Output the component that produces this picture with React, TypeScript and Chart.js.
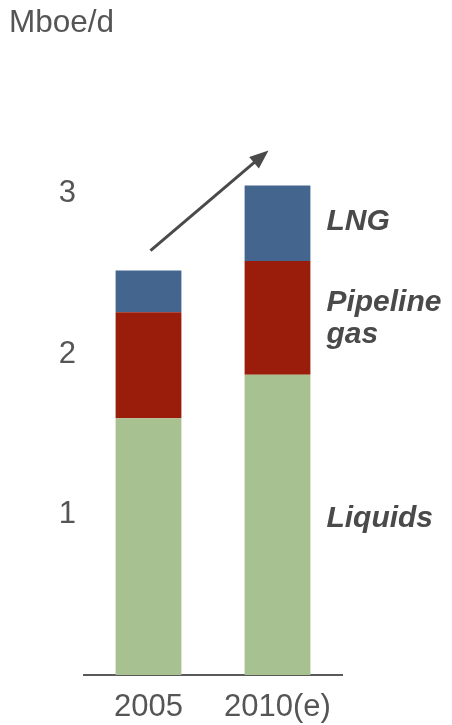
import React, { useEffect, useRef } from "react";
import { Chart, registerables } from "chart.js";

Chart.register(...registerables);

// Output by source, million barrels of oil equivalent per day
const categories = ["2005", "2010(e)"];
const liquids = [1.6, 1.87];
const pipelineGas = [0.66, 0.71];
const lng = [0.26, 0.47];

const liquidsLabel = ["Liquids"];
const pipelineLabel = ["Pipeline", "gas"];
const lngLabel = ["LNG"];
const yTickValues = [1, 2, 3];
const unitLabel = "Mboe/d";

const FONT = "'Liberation Sans', Arial, Helvetica, sans-serif";
const TEXT = "#555555";
const LABEL = "#4a4a4a";

const series = [
  { name: liquidsLabel, values: liquids, color: "#a8c191", labelShift: -6 },
  { name: pipelineLabel, values: pipelineGas, color: "#9a1c0a", labelShift: 1 },
  { name: lngLabel, values: lng, color: "#44658e", labelShift: -1 },
];

const overlay = {
  id: "overlay",
  afterDraw(chart: any) {
    const ctx = chart.ctx as CanvasRenderingContext2D;
    const xs = chart.scales.x;
    const ys = chart.scales.y;
    ctx.save();

    // unit caption
    ctx.fillStyle = TEXT;
    ctx.font = `31.5px ${FONT}`;
    ctx.textAlign = "left";
    ctx.textBaseline = "alphabetic";
    ctx.fillText(unitLabel, 9, 32);

    // series names beside the last bar, centred on each segment
    const last = categories.length - 1;
    const bar = chart.getDatasetMeta(0).data[last] as any;
    const labelX = bar.x + bar.width / 2 + 16;
    ctx.fillStyle = LABEL;
    ctx.font = `italic bold 30px ${FONT}`;
    ctx.textBaseline = "middle";
    let base = 0;
    series.forEach((s) => {
      const v = s.values[last];
      const mid = ys.getPixelForValue(base + v / 2) + s.labelShift;
      base += v;
      const lh = 32;
      s.name.forEach((line, i) => {
        ctx.fillText(line, labelX, mid + (i - (s.name.length - 1) / 2) * lh);
      });
    });

    // growth arrow between the two totals
    const total = (i: number) => series.reduce((a, s) => a + s.values[i], 0);
    const x0 = xs.getPixelForValue(0) + 2;
    const y0 = ys.getPixelForValue(total(0)) - 20;
    const x1 = xs.getPixelForValue(1) - 9;
    const y1 = ys.getPixelForValue(total(1)) - 35;
    const ang = Math.atan2(y1 - y0, x1 - x0);
    const headLen = 19;
    const headHalf = 7.5;
    ctx.strokeStyle = "#4a4a4a";
    ctx.fillStyle = "#4a4a4a";
    ctx.lineWidth = 3;
    ctx.beginPath();
    ctx.moveTo(x0, y0);
    ctx.lineTo(x1 - Math.cos(ang) * (headLen - 2), y1 - Math.sin(ang) * (headLen - 2));
    ctx.stroke();
    const bx = x1 - Math.cos(ang) * headLen;
    const by = y1 - Math.sin(ang) * headLen;
    ctx.beginPath();
    ctx.moveTo(x1, y1);
    ctx.lineTo(bx - Math.sin(ang) * headHalf, by + Math.cos(ang) * headHalf);
    ctx.lineTo(bx + Math.sin(ang) * headHalf, by - Math.cos(ang) * headHalf);
    ctx.closePath();
    ctx.fill();

    ctx.restore();
  },
};

export default function App() {
  const canvasRef = useRef<HTMLCanvasElement | null>(null);

  useEffect(() => {
    if (!canvasRef.current) return;
    const chart = new Chart(canvasRef.current, {
      type: "bar",
      data: {
        labels: categories,
        datasets: series.map((s) => ({
          label: s.name.join(" "),
          data: s.values,
          backgroundColor: s.color,
          borderWidth: 0,
          barPercentage: 0.51,
          categoryPercentage: 1,
        })),
      },
      options: {
        responsive: false,
        animation: false,
        layout: { padding: { top: 33, right: 110, left: 0, bottom: 0 } },
        plugins: {
          legend: { display: false },
          tooltip: { enabled: false },
          title: { display: false },
        },
        scales: {
          x: {
            stacked: true,
            grid: { display: false, drawTicks: false },
            border: { display: true, color: "#5a5a5a", width: 2 },
            ticks: {
              color: TEXT,
              font: { family: FONT, size: 31 },
              padding: 14,
              maxRotation: 0,
            },
            afterFit(scale: any) {
              scale.height = 50;
            },
          },
          y: {
            stacked: true,
            min: 0,
            max: 4,
            grid: { display: false, drawTicks: false },
            border: { display: false },
            afterBuildTicks(scale: any) {
              scale.ticks = yTickValues.map((v) => ({ value: v }));
            },
            ticks: {
              color: TEXT,
              font: { family: FONT, size: 31 },
              padding: 8,
            },
            afterFit(scale: any) {
              scale.width = 84;
            },
          },
        },
      },
      plugins: [overlay],
    } as any);
    return () => chart.destroy();
  }, []);

  return (
    <div style={{ position: "fixed", left: 0, top: 0, width: 452, height: 725, background: "#ffffff" }}>
      <canvas ref={canvasRef} width={452} height={725} style={{ display: "block" }} />
    </div>
  );
}
